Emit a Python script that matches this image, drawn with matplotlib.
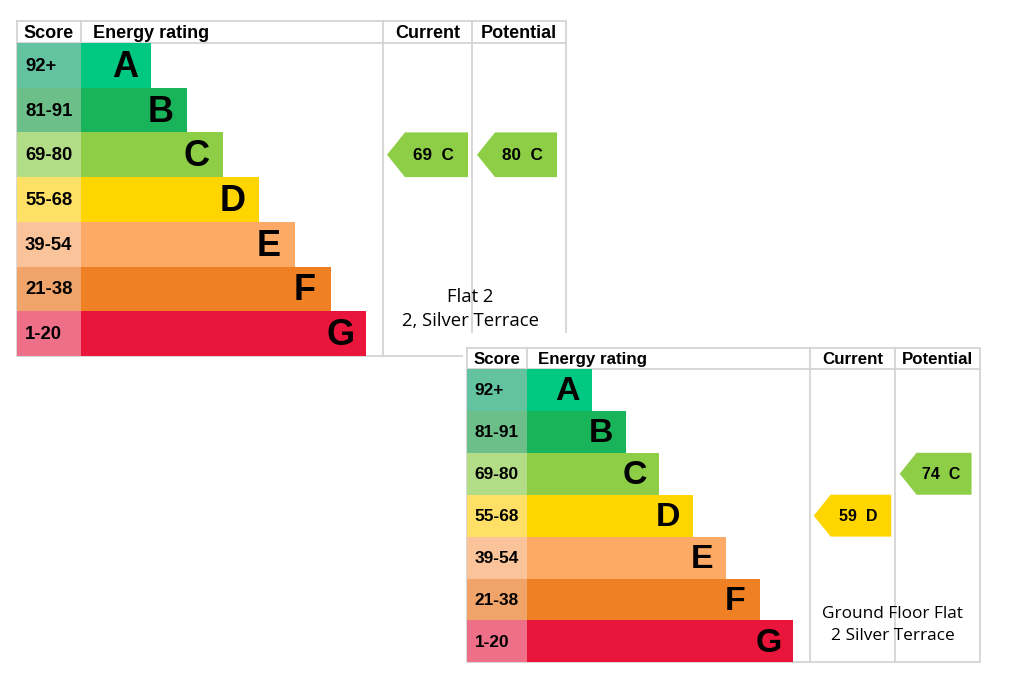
import matplotlib
matplotlib.use("Agg")
import matplotlib.pyplot as plt
from matplotlib.patches import Rectangle, Polygon

# energy bands, best to worst
bands = ["A", "B", "C", "D", "E", "F", "G"]
scoreLabels = ["92+", "81-91", "69-80", "55-68", "39-54", "21-38", "1-20"]
bandLows = [92, 81, 69, 55, 39, 21, 1]
barColors = ["#00c781", "#19b459", "#8dce46", "#ffd500", "#fcaa65", "#ef8023", "#e9153b"]
scoreColors = ["#63c3a0", "#6cbf88", "#b3dc86", "#ffe066", "#fbc39a", "#f0a469", "#ee7088"]

# the two properties
flat1Current = 69
flat1Potential = 80
flat1Caption = "Flat 2\n2, Silver Terrace"
flat2Current = 59
flat2Potential = 74
flat2Caption = "Ground Floor Flat\n2 Silver Terrace"

gridColor = "#d4d4d4"
hdrFont = "Liberation Sans"


def bandOf( value ):
    for idx, low in enumerate( bandLows ):
        if value >= low:
            return idx
    return len( bands ) - 1


def drawArrow( ax, left, right, top, rowH, value, s ):
    idx = bandOf( value )
    y = top + idx * rowH
    tip = 18 * s
    pts = [ (left, y + rowH / 2), (left + tip, y), (right, y), (right, y + rowH), (left + tip, y + rowH) ]
    ax.add_patch( Polygon( pts, closed = True, facecolor = barColors[idx], edgecolor = "none", zorder = 3 ) )
    ax.text( left + tip + (right - left - tip) * 0.45, y + rowH / 2 + 1, "{}  {}".format( value, bands[idx] ),
             ha = "center", va = "center", fontsize = 12.3 * s, weight = "bold", family = hdrFont, zorder = 4 )


def drawChart( ax, cols, top, hdrH, rowH, barA, step, cur, pot, caption, capY, capSpacing ):
    # cols: left, score/energy, energy/current, current/potential, right
    s = rowH / 44.7
    x0, xs, xc, xp, x1 = cols
    bottom = top + hdrH + 7 * rowH
    rowTop = top + hdrH
    # grid
    lw = 1.3
    ax.plot( [x0, x1, x1, x0, x0], [top, top, bottom, bottom, top], color = gridColor, lw = lw, zorder = 1 )
    ax.plot( [x0, x1], [rowTop, rowTop], color = gridColor, lw = lw, zorder = 1 )
    for xv in (xs, xc, xp):
        ax.plot( [xv, xv], [top, bottom], color = gridColor, lw = lw, zorder = 1 )
    # headers
    hy = top + hdrH / 2 + 1
    hs = 13 * s
    ax.text( (x0 + xs) / 2, hy, "Score", ha = "center", va = "center", fontsize = hs, weight = "bold", family = hdrFont )
    ax.text( xs + 12 * s, hy, "Energy rating", ha = "left", va = "center", fontsize = hs, weight = "bold", family = hdrFont )
    ax.text( (xc + xp) / 2, hy, "Current", ha = "center", va = "center", fontsize = hs, weight = "bold", family = hdrFont )
    ax.text( (xp + x1) / 2, hy, "Potential", ha = "center", va = "center", fontsize = hs, weight = "bold", family = hdrFont )
    # bands
    for idx, band in enumerate( bands ):
        y = rowTop + idx * rowH
        end = xs + barA + idx * step
        ax.add_patch( Rectangle( (x0, y), xs - x0, rowH, facecolor = scoreColors[idx], edgecolor = "none", zorder = 2 ) )
        ax.add_patch( Rectangle( (xs, y), end - xs, rowH, facecolor = barColors[idx], edgecolor = "none", zorder = 2 ) )
        ax.text( x0 + 8 * s, y + rowH / 2 + 1, scoreLabels[idx], ha = "left", va = "center",
                 fontsize = 13.3 * s, weight = "bold", family = hdrFont, zorder = 3 )
        ax.text( end - 26 * s, y + rowH / 2 + 2, band, ha = "center", va = "center",
                 fontsize = 26 * s, weight = "bold", family = hdrFont, zorder = 3 )
    drawArrow( ax, xc + 4 * s, xp - 4 * s, rowTop, rowH, cur, s )
    drawArrow( ax, xp + 5 * s, x1 - 9 * s, rowTop, rowH, pot, s )
    ax.text( xp - 2, capY, caption, ha = "center", va = "center", fontsize = 13.3 * s,
             family = "Open Sans", linespacing = capSpacing, zorder = 3 )


def main():
    fig = plt.figure( figsize = (10.24, 6.83), dpi = 100, facecolor = "white" )
    ax = fig.add_axes( [0, 0, 1, 1] )
    ax.set_xlim( 0, 1024 )
    ax.set_ylim( 683, 0 )
    ax.axis( "off" )

    drawChart( ax, (17, 81, 383, 472, 566), 21, 22, 44.7, 70, 35.9,
               flat1Current, flat1Potential, flat1Caption, 309, 1.4 )

    # second picture pasted on top, with its own white margin
    ax.add_patch( Rectangle( (463, 333), 540, 345, facecolor = "white", edgecolor = "none", zorder = 5 ) )
    ax2 = fig.add_axes( [0, 0, 1, 1] )
    ax2.set_xlim( 0, 1024 )
    ax2.set_ylim( 683, 0 )
    ax2.axis( "off" )
    ax2.patch.set_alpha( 0 )
    drawChart( ax2, (467, 527, 810, 895, 980), 348, 21, 41.9, 65, 33.5,
               flat2Current, flat2Potential, flat2Caption, 625, 1.45 )

    fig.savefig( "out.png", dpi = 100, facecolor = "white" )


if __name__ == "__main__":
    main()
